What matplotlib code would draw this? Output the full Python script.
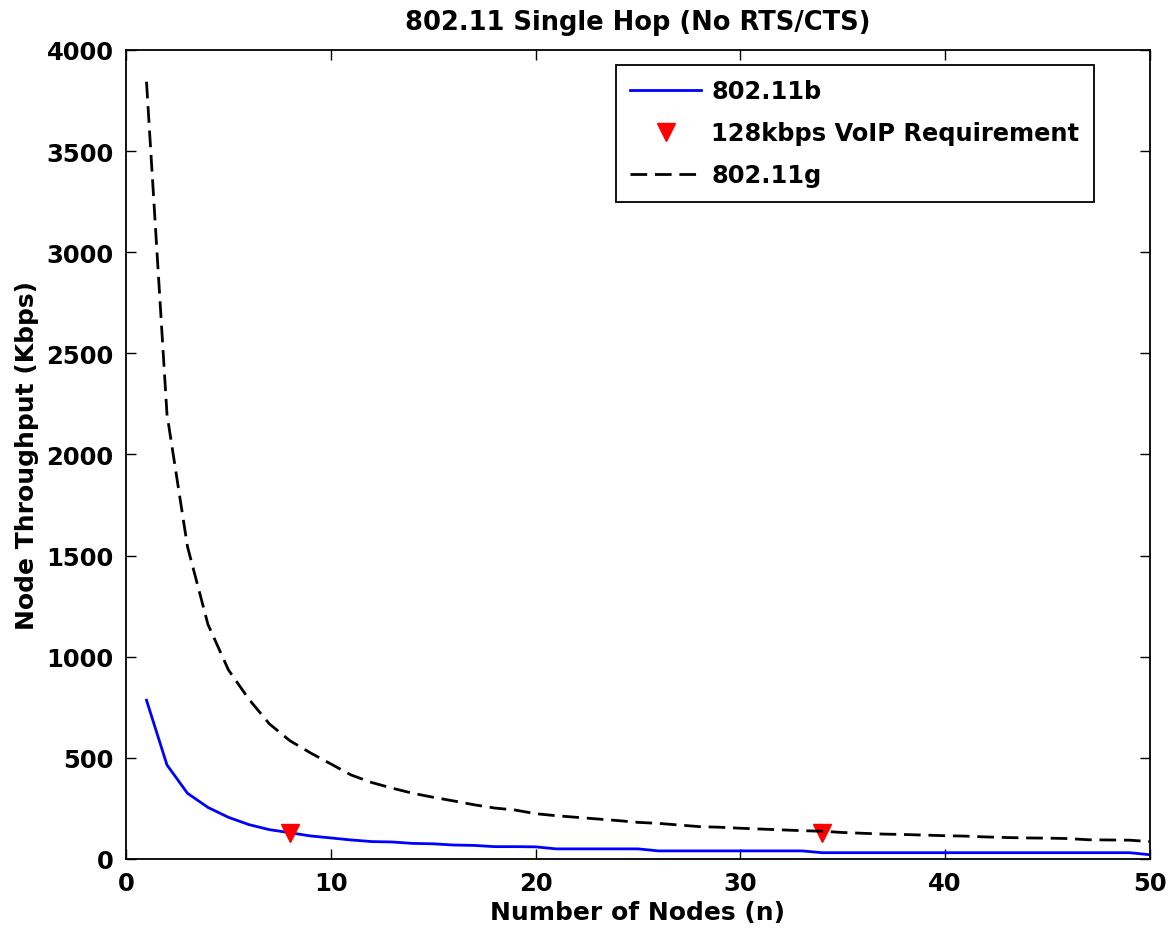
import numpy as np
import matplotlib
matplotlib.use('Agg')
import matplotlib.pyplot as plt

plt.rcParams['font.family'] = ['DejaVu Sans']
plt.rcParams['font.weight'] = 'bold'

nodes = np.arange(1, 51)
tput_b = [785, 465, 325, 255, 206, 170, 145, 130, 114, 104,
          94, 86, 84, 77, 75, 69, 67, 61, 61, 60,
          50, 50, 50, 50, 50, 40, 40, 40, 40, 40,
          40, 40, 40, 31, 31, 31, 31, 31, 31, 31,
          31, 31, 31, 31, 31, 31, 31, 31, 31, 21]
tput_g = [3843, 2200, 1545, 1160, 935, 790, 668, 585, 525, 470,
          415, 378, 350, 325, 305, 287, 268, 252, 242, 224,
          214, 206, 198, 190, 181, 176, 168, 160, 157, 152,
          148, 144, 140, 137, 131, 127, 123, 121, 118, 115,
          113, 109, 106, 104, 103, 101, 95, 94, 93, 86]
voip_x = [8, 34]
voip_y = [128, 128]

fig = plt.figure(figsize=(11.69, 9.37), dpi=100, facecolor='white')
ax = fig.add_axes([0.1078, 0.0822, 0.8759, 0.8634])

ax.plot(nodes, tput_b, c='#0000ff', lw=2, label='802.11b')
ax.plot(voip_x, voip_y, ls='none', marker='v', ms=13, c='#ff0000', mec='#ff0000', label='128kbps VoIP Requirement')
line_g, = ax.plot(nodes, tput_g, c='black', lw=2, label='802.11g')
line_g.set_dashes((6, 2.8))

ax.set_xlim(0, 50)
ax.set_ylim(0, 4000)
ax.set_xticks(np.arange(0, 51, 10))
ax.set_yticks(np.arange(0, 4001, 500))
ax.tick_params(direction='in', length=7, width=1, top=True, right=True,
               labelsize=17.5, pad=9)
for sp in ax.spines.values():
    sp.set_linewidth(1.3)

ax.set_title('802.11 Single Hop (No RTS/CTS)', fontsize=18.5, fontweight='bold', pad=15)
ax.set_xlabel('Number of Nodes (n)', fontsize=18, fontweight='bold', labelpad=3)
ax.set_ylabel('Node Throughput (Kbps)', fontsize=18, fontweight='bold', labelpad=5)

leg = ax.legend(loc='upper right', bbox_to_anchor=(0.9453, 0.9818), borderaxespad=0,
                fontsize=17.4, frameon=True, fancybox=False,
                edgecolor='black', framealpha=1, handlelength=2.9, handletextpad=0.45,
                borderpad=0.6, labelspacing=0.75)
leg.get_frame().set_linewidth(1.3)

fig.savefig('out.png', dpi=100, facecolor='white')
